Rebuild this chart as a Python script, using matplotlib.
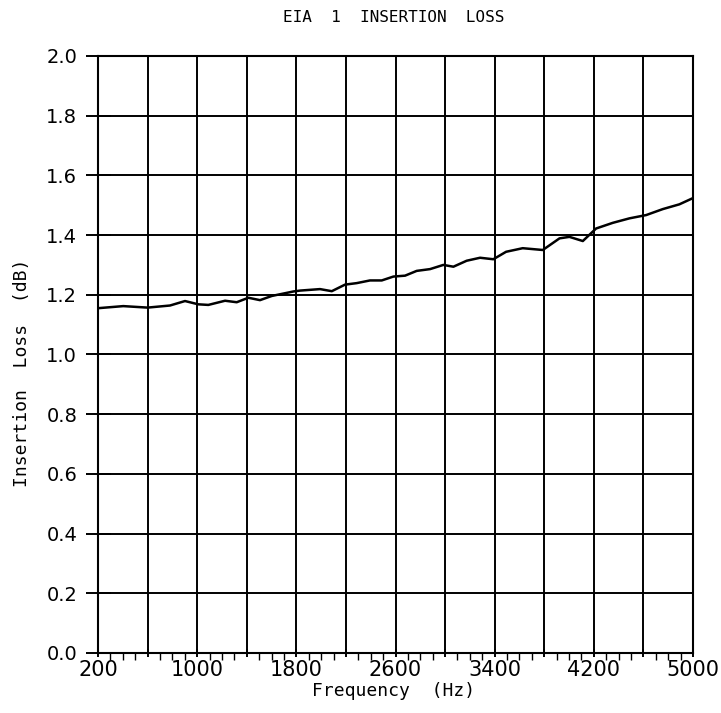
import numpy as np
import matplotlib
matplotlib.use("Agg")
import matplotlib.pyplot as plt
from matplotlib.ticker import MultipleLocator

# values
freq_hz = [200, 404, 600, 781, 902, 1009, 1090, 1225, 1319, 1413, 1507, 1602,
           1776, 1830, 1991, 2086, 2193, 2287, 2394, 2489, 2583, 2677, 2771,
           2879, 2986, 3067, 3174, 3282, 3389, 3492, 3626, 3788, 3923, 4003,
           4111, 4218, 4353, 4487, 4622, 4756, 4890, 5000]
loss_db = [1.155, 1.162, 1.157, 1.164, 1.179, 1.168, 1.166, 1.180, 1.175, 1.190,
           1.182, 1.196, 1.211, 1.214, 1.219, 1.212, 1.234, 1.239, 1.248, 1.248,
           1.261, 1.264, 1.280, 1.286, 1.300, 1.294, 1.314, 1.324, 1.319, 1.344,
           1.356, 1.350, 1.389, 1.394, 1.380, 1.422, 1.441, 1.456, 1.467, 1.487,
           1.503, 1.524]

x_ticks = list(range(200, 5001, 400))
x_labels = [str(t) if (t - 200) % 800 == 0 else "" for t in x_ticks]
y_ticks = [0.0, 0.2, 0.4, 0.6, 0.8, 1.0, 1.2, 1.4, 1.6, 1.8, 2.0]

mono = "DejaVu Sans Mono"

fig = plt.figure(figsize=(7.21, 7.13), dpi=100)
ax = fig.add_axes([0.1359, 0.0842, 0.8253, 0.8373])

ax.plot(freq_hz, loss_db, color="black", linewidth=1.8, zorder=3)

ax.set_xlim(200, 5000)
ax.set_ylim(0, 2.0)
ax.set_xticks(x_ticks)
ax.set_xticklabels(x_labels, fontsize=15)
ax.xaxis.set_minor_locator(MultipleLocator(100))
ax.set_yticks(y_ticks)
ax.set_yticklabels(["%.1f" % v for v in y_ticks], fontsize=14)

ax.grid(True, which="major", color="black", linewidth=1.4)
for s in ax.spines.values():
    s.set_linewidth(1.5)

ax.tick_params(axis="x", which="major", direction="inout", length=6, width=1.4, pad=2)
ax.tick_params(axis="x", which="minor", direction="out", length=5, width=1.0)
ax.tick_params(axis="y", which="major", direction="inout", length=18, width=1.4, pad=6)

ax.set_xlabel("Frequency  (Hz)", fontsize=13, family=mono)
ax.xaxis.set_label_coords(0.496, -0.048)
ax.set_ylabel("Insertion  Loss  (dB)", fontsize=13, family=mono)
ax.yaxis.set_label_coords(-0.113, 0.469)
fig.text(0.546, 0.975, "EIA  1  INSERTION  LOSS", ha="center", va="center",
         fontsize=11.5, family=mono)

fig.savefig("out.png", dpi=100)
